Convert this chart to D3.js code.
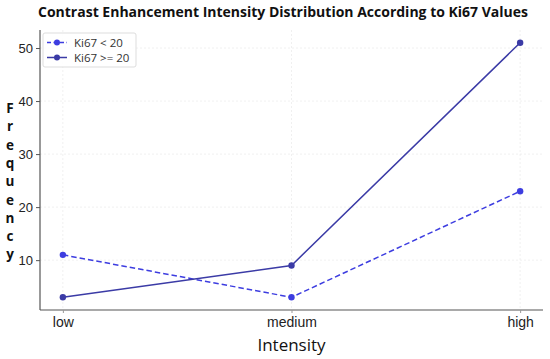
<!DOCTYPE html>
<html lang="en">
<head>
<meta charset="UTF-8" />
<script src="https://d3js.org/d3.v7.min.js"></script>
<style>
  html, body { margin: 0; padding: 0; background: #fff; }
  svg { display: block; font-family: "Open Sans", "DejaVu Sans", sans-serif; }
</style>
</head>
<body>
<svg id="chart" width="550" height="359"></svg>
<script>
// chart data
var categories = ["low", "medium", "high"];
var lowKi = [11, 3, 23];     // Ki67 < 20
var highKi = [3, 9, 51];     // Ki67 >= 20
var seriesNames = ["Ki67 < 20", "Ki67 >= 20"];
var yTicks = [10, 20, 30, 40, 50];

var margin = {top: 30, right: 7, bottom: 49, left: 40};
var width = 550 - margin.left - margin.right,
    height = 359 - margin.top - margin.bottom;

var svg = d3.select("#chart");
var g = svg.append("g").attr("transform", "translate(" + margin.left + "," + margin.top + ")");

// matplotlib-ish 5% margins
var x = d3.scaleLinear().domain([-0.1, 2.1]).range([0, width]);
var yMin = 3 - 0.05 * 48, yMax = 51 + 0.05 * 48;
var y = d3.scaleLinear().domain([yMin, yMax]).range([height, 0]);

// grid
g.append("g").selectAll("line.gy").data(yTicks).join("line")
  .attr("x1", 0).attr("x2", width)
  .attr("y1", d => y(d)).attr("y2", d => y(d))
  .attr("stroke", "#ececec").attr("stroke-width", 0.8).attr("stroke-dasharray", "2,2");
g.append("g").selectAll("line.gx").data(categories).join("line")
  .attr("x1", (d, i) => x(i)).attr("x2", (d, i) => x(i))
  .attr("y1", 0).attr("y2", height)
  .attr("stroke", "#ececec").attr("stroke-width", 0.8).attr("stroke-dasharray", "2,2");

// axes
var yAxis = g.append("g").call(d3.axisLeft(y).tickValues(yTicks).tickSize(4).tickPadding(3));
yAxis.select(".domain").attr("stroke", "#555").attr("stroke-width", 1.2).attr("d", "M0," + height + "V0");
yAxis.selectAll(".tick line").attr("stroke", "#555");
yAxis.selectAll("text").attr("font-size", 13).attr("fill", "#222");

var xAxis = g.append("g").attr("transform", "translate(0," + height + ")")
  .call(d3.axisBottom(x).tickValues([0, 1, 2]).tickFormat(i => categories[i]).tickSize(3).tickPadding(4));
xAxis.select(".domain").attr("stroke", "#555").attr("stroke-width", 1.2).attr("d", "M0,0H" + width);
xAxis.selectAll(".tick line").attr("stroke", "#999");
xAxis.selectAll("text").attr("font-size", 14).attr("fill", "#222");

// lines
var line = d3.line().x((d, i) => x(i)).y(d => y(d));
var colors = ["#3d3de0", "#3b3ba6"];

g.append("path").datum(lowKi).attr("d", line)
  .attr("fill", "none").attr("stroke", colors[0]).attr("stroke-width", 1.5).attr("stroke-dasharray", "5.5,3");
g.append("path").datum(highKi).attr("d", line)
  .attr("fill", "none").attr("stroke", colors[1]).attr("stroke-width", 1.5);

g.append("g").selectAll("circle").data(lowKi).join("circle")
  .attr("cx", (d, i) => x(i)).attr("cy", d => y(d)).attr("r", 3.2).attr("fill", colors[0]);
g.append("g").selectAll("circle").data(highKi).join("circle")
  .attr("cx", (d, i) => x(i)).attr("cy", d => y(d)).attr("r", 3.2).attr("fill", colors[1]);

// legend
var leg = g.append("g").attr("transform", "translate(3,3)");
leg.append("rect").attr("width", 93).attr("height", 34).attr("rx", 2)
  .attr("fill", "#fff").attr("fill-opacity", 0.85).attr("stroke", "#ddd");
seriesNames.forEach(function(name, i) {
  var yy = 9.5 + i * 15;
  leg.append("line").attr("x1", 4).attr("x2", 24).attr("y1", yy).attr("y2", yy)
    .attr("stroke", colors[i]).attr("stroke-width", 1.5)
    .attr("stroke-dasharray", i === 0 ? "4,2.5" : null);
  leg.append("circle").attr("cx", 14).attr("cy", yy).attr("r", 3).attr("fill", colors[i]);
  leg.append("text").attr("x", 31).attr("y", yy + 4).attr("font-size", 11.5).attr("fill", "#333").text(name);
});

// title
svg.append("text").attr("x", 283).attr("y", 17).attr("text-anchor", "middle")
  .attr("font-size", 14).attr("font-weight", "bold").attr("fill", "#111")
  .text("Contrast Enhancement Intensity Distribution According to Ki67 Values");

// x label
svg.append("text").attr("x", margin.left + x(1)).attr("y", 351).attr("text-anchor", "middle")
  .attr("font-size", 17).attr("fill", "#111").text("Intensity");

// y label, letters stacked
var yl = "Frequency".split("");
svg.append("g").selectAll("text").data(yl).join("text")
  .attr("x", 10).attr("y", (d, i) => 113 + i * 18.3).attr("text-anchor", "middle")
  .attr("font-size", 13.5).attr("font-weight", "bold").attr("fill", "#111")
  .text(d => d);
</script>
</body>
</html>
